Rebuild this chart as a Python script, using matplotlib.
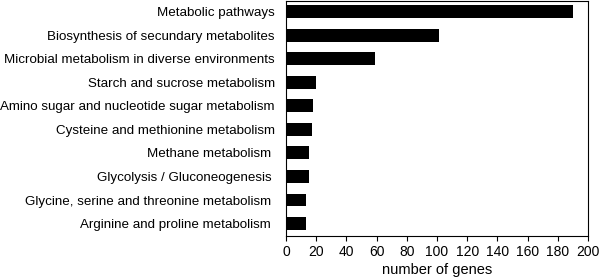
import matplotlib
matplotlib.use("Agg")
import matplotlib.pyplot as plt
import numpy as np

categories = [
    "Metabolic pathways",
    "Biosynthesis of secundary metabolites",
    "Microbial metabolism in diverse environments",
    "Starch and sucrose metabolism",
    "Amino sugar and nucleotide sugar metabolism",
    "Cysteine and methionine metabolism",
    "Methane metabolism ",
    "Glycolysis / Gluconeogenesis ",
    "Glycine, serine and threonine metabolism ",
    "Arginine and proline metabolism ",
]
values = [190, 101, 59, 20, 18, 17, 15, 15, 13, 13]
xticks = list(range(0, 201, 20))

plt.rcParams['font.family'] = ['Liberation Sans', 'DejaVu Sans']
fig = plt.figure(figsize=(6, 2.79), dpi=100)
ax = fig.add_axes([0.4767, 0.154, 0.98 - 0.4767, 0.996 - 0.154])

y = np.arange(len(categories))
ax.barh(y, values, height=0.55, color='black')
ax.set_yticks(y)
ax.set_yticklabels(categories, fontsize=9.6)
ax.set_ylim(len(categories) - 0.47, -0.45)
ax.set_xlim(0, 200)
ax.set_xticks(xticks)
ax.set_xticklabels([str(t) for t in xticks], fontsize=10)
ax.set_xlabel("number of genes", fontsize=10.5, labelpad=3)
ax.tick_params(axis='y', length=0, pad=8)
ax.tick_params(axis='x', length=3.5, width=0.8, direction='out', pad=3)
for s in ax.spines.values():
    s.set_linewidth(0.8)
fig.savefig("out.png", dpi=100)
